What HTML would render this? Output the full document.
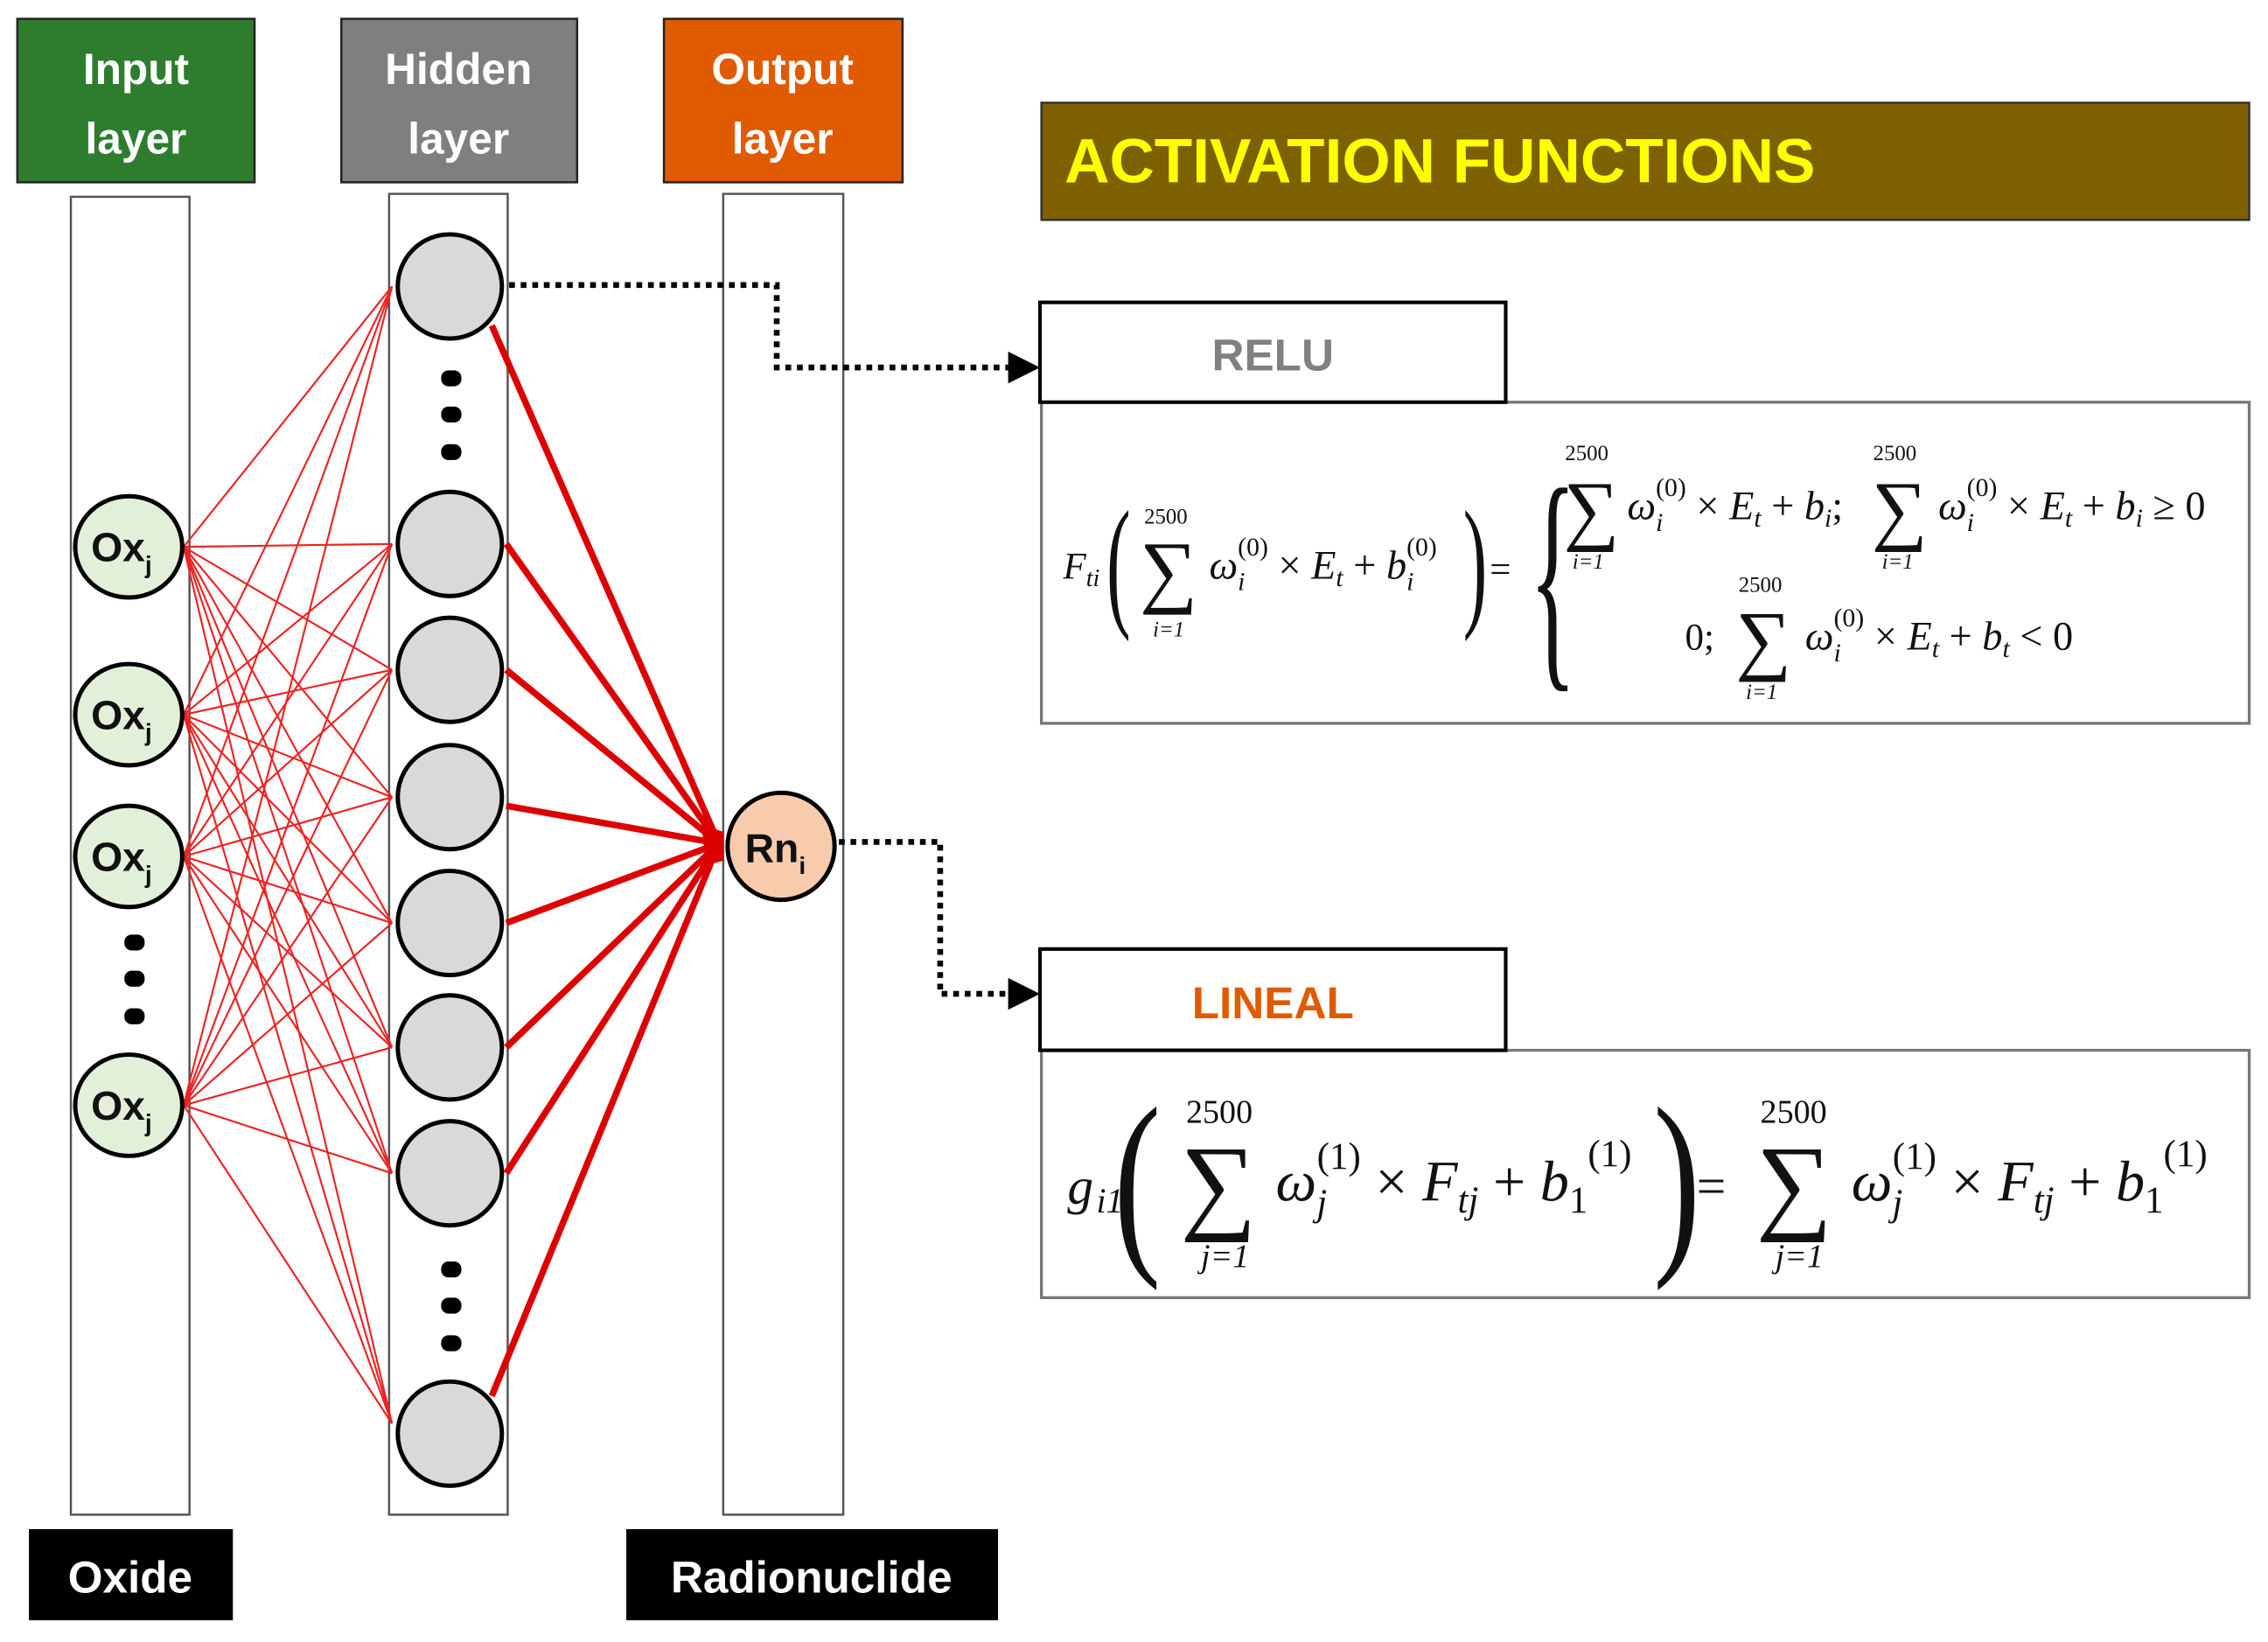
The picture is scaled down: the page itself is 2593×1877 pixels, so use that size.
<!DOCTYPE html>
<html><head><meta charset="utf-8"><style>
html,body{margin:0;padding:0;background:#fff;}
svg{display:block;}
.b{font-family:"Liberation Sans",sans-serif;font-weight:bold;}
.m{font-family:"Liberation Serif",serif;font-style:italic;}
.r{font-family:"Liberation Serif",serif;}
</style></head><body>
<svg width="2593" height="1877" viewBox="0 0 1568 1135" xmlns="http://www.w3.org/2000/svg">
<rect width="1568" height="1135" fill="#fff"/>
<rect x="12" y="13" width="164" height="113" fill="#2e7d2e" stroke="#222" stroke-width="1.5"/>
<text x="94" y="58" class="b" font-size="30" fill="#fff" text-anchor="middle">Input</text>
<text x="94" y="106" class="b" font-size="30" fill="#fff" text-anchor="middle">layer</text>
<rect x="236" y="13" width="163" height="113" fill="#7f7f7f" stroke="#222" stroke-width="1.5"/>
<text x="317" y="58" class="b" font-size="30" fill="#fff" text-anchor="middle">Hidden</text>
<text x="317" y="106" class="b" font-size="30" fill="#fff" text-anchor="middle">layer</text>
<rect x="459" y="13" width="165" height="113" fill="#e05a00" stroke="#222" stroke-width="1.5"/>
<text x="541" y="58" class="b" font-size="30" fill="#fff" text-anchor="middle">Output</text>
<text x="541" y="106" class="b" font-size="30" fill="#fff" text-anchor="middle">layer</text>
<rect x="49" y="136" width="82" height="911" fill="none" stroke="#555" stroke-width="1.5"/>
<rect x="269" y="134" width="82" height="913" fill="none" stroke="#555" stroke-width="1.5"/>
<rect x="500" y="134" width="83" height="913" fill="none" stroke="#555" stroke-width="1.5"/>
<g stroke="#ee2222" stroke-width="1.3">
<line x1="127" y1="378" x2="271" y2="198"/><line x1="127" y1="378" x2="271" y2="376"/><line x1="127" y1="378" x2="271" y2="463"/><line x1="127" y1="378" x2="271" y2="551"/><line x1="127" y1="378" x2="271" y2="638"/><line x1="127" y1="378" x2="271" y2="724"/><line x1="127" y1="378" x2="271" y2="811"/><line x1="127" y1="378" x2="271" y2="984"/>
<line x1="127" y1="494" x2="271" y2="198"/><line x1="127" y1="494" x2="271" y2="376"/><line x1="127" y1="494" x2="271" y2="463"/><line x1="127" y1="494" x2="271" y2="551"/><line x1="127" y1="494" x2="271" y2="638"/><line x1="127" y1="494" x2="271" y2="724"/><line x1="127" y1="494" x2="271" y2="811"/><line x1="127" y1="494" x2="271" y2="984"/>
<line x1="127" y1="592" x2="271" y2="198"/><line x1="127" y1="592" x2="271" y2="376"/><line x1="127" y1="592" x2="271" y2="463"/><line x1="127" y1="592" x2="271" y2="551"/><line x1="127" y1="592" x2="271" y2="638"/><line x1="127" y1="592" x2="271" y2="724"/><line x1="127" y1="592" x2="271" y2="811"/><line x1="127" y1="592" x2="271" y2="984"/>
<line x1="127" y1="764" x2="271" y2="198"/><line x1="127" y1="764" x2="271" y2="376"/><line x1="127" y1="764" x2="271" y2="463"/><line x1="127" y1="764" x2="271" y2="551"/><line x1="127" y1="764" x2="271" y2="638"/><line x1="127" y1="764" x2="271" y2="724"/><line x1="127" y1="764" x2="271" y2="811"/><line x1="127" y1="764" x2="271" y2="984"/>
</g>
<g stroke="#dd0000" stroke-width="4.5">
<line x1="340" y1="225" x2="497" y2="583"/><line x1="350" y1="376" x2="497" y2="583"/><line x1="350" y1="463" x2="497" y2="583"/><line x1="350" y1="557" x2="497" y2="583"/><line x1="350" y1="638" x2="497" y2="583"/><line x1="350" y1="724" x2="497" y2="583"/><line x1="350" y1="811" x2="497" y2="583"/><line x1="340" y1="965" x2="497" y2="583"/>
</g>
<polygon points="485,570 500,575 500,595 488,598" fill="#dd0000"/>
<g fill="#e2f0d9" stroke="#000" stroke-width="3">
<ellipse cx="89" cy="378" rx="37" ry="35"/><ellipse cx="89" cy="494" rx="37" ry="35"/><ellipse cx="89" cy="592" rx="37" ry="35"/><ellipse cx="89" cy="764" rx="37" ry="35"/>
</g>
<g class="b" font-size="28" fill="#111" text-anchor="middle">
<text x="84" y="388">Ox<tspan font-size="17" dy="8">j</tspan></text>
<text x="84" y="504">Ox<tspan font-size="17" dy="8">j</tspan></text>
<text x="84" y="602">Ox<tspan font-size="17" dy="8">j</tspan></text>
<text x="84" y="774">Ox<tspan font-size="17" dy="8">j</tspan></text>
</g>
<g fill="#000"><rect x="86" y="646" width="14" height="11" rx="5"/><rect x="86" y="671" width="14" height="11" rx="5"/><rect x="86" y="697" width="14" height="11" rx="5"/>
<rect x="305" y="256" width="14" height="11" rx="5"/><rect x="305" y="281" width="14" height="11" rx="5"/><rect x="305" y="307" width="14" height="11" rx="5"/>
<rect x="305" y="872" width="14" height="11" rx="5"/><rect x="305" y="897" width="14" height="11" rx="5"/><rect x="305" y="923" width="14" height="11" rx="5"/></g>
<g fill="#d9d9d9" stroke="#000" stroke-width="3">
<ellipse cx="311" cy="198" rx="36" ry="36"/><ellipse cx="311" cy="376" rx="36" ry="36"/><ellipse cx="311" cy="463" rx="36" ry="36"/><ellipse cx="311" cy="551" rx="36" ry="36"/><ellipse cx="311" cy="638" rx="36" ry="36"/><ellipse cx="311" cy="724" rx="36" ry="36"/><ellipse cx="311" cy="811" rx="36" ry="36"/><ellipse cx="311" cy="991" rx="36" ry="36"/>
</g>
<circle cx="540" cy="585" r="37" fill="#f8cbad" stroke="#000" stroke-width="3"/>
<text x="536" y="596" class="b" font-size="28" fill="#111" text-anchor="middle">Rn<tspan font-size="17" dy="8">i</tspan></text>
<g fill="none" stroke="#000" stroke-width="4" stroke-dasharray="4,4">
<polyline points="352,197 537,197 537,254 704,254"/>
<polyline points="580,582 650,582 650,687 704,687"/>
</g>
<polygon points="697,243 719,254 697,265" fill="#000"/>
<polygon points="697,676 719,687 697,698" fill="#000"/>
<rect x="20" y="1057" width="141" height="63" fill="#000"/>
<text x="90" y="1101" class="b" font-size="31" fill="#fff" text-anchor="middle">Oxide</text>
<rect x="433" y="1057" width="257" height="63" fill="#000"/>
<text x="561" y="1101" class="b" font-size="31" fill="#fff" text-anchor="middle">Radionuclide</text>
<rect x="720" y="71" width="835" height="81" fill="#7f6000" stroke="#333" stroke-width="1.5"/>
<text x="736" y="126" class="b" font-size="43" fill="#ffff00">ACTIVATION FUNCTIONS</text>
<rect x="720" y="278" width="835" height="222" fill="#fff" stroke="#777" stroke-width="2"/>
<rect x="719" y="209" width="322" height="69" fill="#fff" stroke="#000" stroke-width="2.5"/>
<text x="880" y="256" class="b" font-size="31" fill="#808080" text-anchor="middle">RELU</text>
<g fill="#111">
<text x="735" y="400" class="m" font-size="26">F<tspan font-size="17" dy="5">ti</tspan></text>
<text x="765" y="422" class="r" font-size="100" transform="scale(0.5,1)" style="transform-origin:765px 400px">(</text>
<text x="788" y="413" class="r" font-size="56">∑</text>
<text x="806" y="362" class="r" font-size="15" text-anchor="middle">2500</text>
<text x="808" y="440" class="m" font-size="15" text-anchor="middle">i=1</text>
<text x="836" y="400" class="m" font-size="28">ω<tspan font-size="18" dy="8">i</tspan><tspan class="r" font-style="normal" font-size="18" dx="-5" dy="-24">(0)</tspan><tspan class="r" font-style="normal" font-size="28" dy="16"> × </tspan>E<tspan font-size="18" dy="5">t</tspan><tspan class="r" font-style="normal" font-size="28" dy="-5"> + </tspan>b<tspan font-size="18" dy="8">i</tspan><tspan class="r" font-style="normal" font-size="18" dx="-5" dy="-24">(0)</tspan></text>
<text x="1008" y="422" class="r" font-size="100" transform="scale(0.5,1)" style="transform-origin:1015px 400px">)</text>
<text x="1030" y="402" class="r" font-size="26">=</text>
<text x="1050" y="455" class="r" font-size="170" transform="scale(0.4,1)" style="transform-origin:1062px 400px">{</text>
<text x="1081" y="370" class="r" font-size="54">∑</text>
<text x="1097" y="318" class="r" font-size="15" text-anchor="middle">2500</text>
<text x="1098" y="393" class="m" font-size="15" text-anchor="middle">i=1</text>
<text x="1125" y="359" class="m" font-size="28">ω<tspan font-size="18" dy="8">i</tspan><tspan class="r" font-style="normal" font-size="18" dx="-5" dy="-24">(0)</tspan><tspan class="r" font-style="normal" font-size="28" dy="16"> × </tspan>E<tspan font-size="18" dy="5">t</tspan><tspan class="r" font-style="normal" font-size="28" dy="-5"> + </tspan>b<tspan font-size="18" dy="5">i</tspan><tspan class="r" font-style="normal" font-size="28" dy="-5">;</tspan></text>
<text x="1294" y="370" class="r" font-size="54">∑</text>
<text x="1310" y="318" class="r" font-size="15" text-anchor="middle">2500</text>
<text x="1312" y="393" class="m" font-size="15" text-anchor="middle">i=1</text>
<text x="1340" y="359" class="m" font-size="28">ω<tspan font-size="18" dy="8">i</tspan><tspan class="r" font-style="normal" font-size="18" dx="-5" dy="-24">(0)</tspan><tspan class="r" font-style="normal" font-size="28" dy="16"> × </tspan>E<tspan font-size="18" dy="5">t</tspan><tspan class="r" font-style="normal" font-size="28" dy="-5"> + </tspan>b<tspan font-size="18" dy="5">i</tspan><tspan class="r" font-style="normal" font-size="28" dy="-5"> ≥ 0</tspan></text>
<text x="1165" y="449" class="r" font-size="26">0;</text>
<text x="1200" y="460" class="r" font-size="54">∑</text>
<text x="1217" y="409" class="r" font-size="15" text-anchor="middle">2500</text>
<text x="1218" y="483" class="m" font-size="15" text-anchor="middle">i=1</text>
<text x="1248" y="449" class="m" font-size="28">ω<tspan font-size="18" dy="8">i</tspan><tspan class="r" font-style="normal" font-size="18" dx="-5" dy="-24">(0)</tspan><tspan class="r" font-style="normal" font-size="28" dy="16"> × </tspan>E<tspan font-size="18" dy="5">t</tspan><tspan class="r" font-style="normal" font-size="28" dy="-5"> + </tspan>b<tspan font-size="18" dy="5">t</tspan><tspan class="r" font-style="normal" font-size="28" dy="-5"> &lt; 0</tspan></text>
</g>
<rect x="720" y="726" width="835" height="171" fill="#fff" stroke="#777" stroke-width="2"/>
<rect x="719" y="656" width="322" height="70" fill="#fff" stroke="#000" stroke-width="2.5"/>
<text x="880" y="704" class="b" font-size="31" fill="#e05a00" text-anchor="middle">LINEAL</text>
<g fill="#111">
<text x="738" y="832" class="m" font-size="36">g<tspan font-size="24" dy="6" dx="2">i1</tspan></text>
<text x="770" y="862" class="r" font-size="140" transform="scale(0.7,1)" style="transform-origin:770px 820px">(</text>
<text x="816" y="843" class="r" font-size="74">∑</text>
<text x="843" y="776" class="r" font-size="23" text-anchor="middle">2500</text>
<text x="847" y="876" class="m" font-size="23" text-anchor="middle">j=1</text>
<text x="882" y="830" class="m" font-size="40">ω<tspan font-size="26" dy="10">j</tspan><tspan class="r" font-style="normal" font-size="26" dx="-7" dy="-32">(1)</tspan><tspan class="r" font-style="normal" font-size="40" dy="22"> × </tspan>F<tspan font-size="26" dy="8">tj</tspan><tspan class="r" font-style="normal" font-size="40" dy="-8"> + </tspan>b<tspan class="r" font-style="normal" font-size="26" dy="8">1</tspan><tspan class="r" font-style="normal" font-size="26" dy="-32">(1)</tspan></text>
<text x="1140" y="862" class="r" font-size="140" transform="scale(0.7,1)" style="transform-origin:1150px 820px">)</text>
<text x="1173" y="832" class="r" font-size="36">=</text>
<text x="1214" y="843" class="r" font-size="74">∑</text>
<text x="1240" y="776" class="r" font-size="23" text-anchor="middle">2500</text>
<text x="1244" y="876" class="m" font-size="23" text-anchor="middle">j=1</text>
<text x="1280" y="830" class="m" font-size="40">ω<tspan font-size="26" dy="10">j</tspan><tspan class="r" font-style="normal" font-size="26" dx="-7" dy="-32">(1)</tspan><tspan class="r" font-style="normal" font-size="40" dy="22"> × </tspan>F<tspan font-size="26" dy="8">tj</tspan><tspan class="r" font-style="normal" font-size="40" dy="-8"> + </tspan>b<tspan class="r" font-style="normal" font-size="26" dy="8">1</tspan><tspan class="r" font-style="normal" font-size="26" dy="-32">(1)</tspan></text>
</g>
</svg>
</body></html>
